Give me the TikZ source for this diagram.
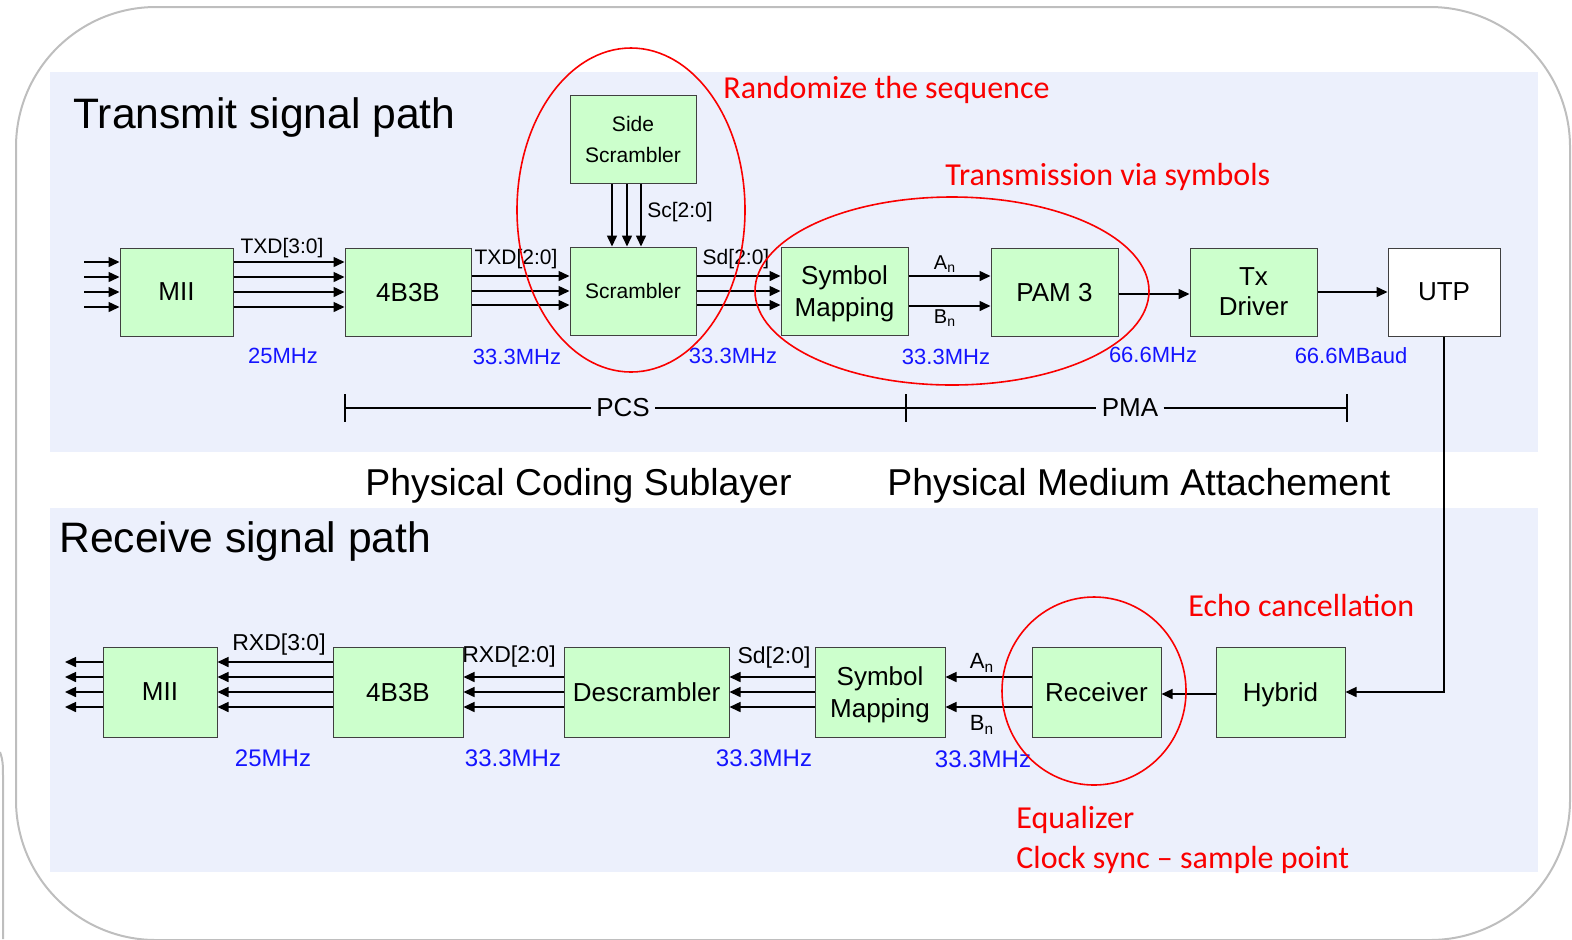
\documentclass[tikz,border=0pt]{standalone}
\usepackage{fontspec}
\setmainfont{Liberation Sans}
\newfontfamily\calibri{Carlito}
\usepackage{xcolor}
\usepackage{tikz}
\usetikzlibrary{positioning,calc,arrows.meta}

\definecolor{boxgreen}{RGB}{204,255,204}
\definecolor{bandbg}{RGB}{236,240,252}
\definecolor{freqblue}{RGB}{20,20,255}
\definecolor{notered}{RGB}{250,0,0}
\definecolor{framegray}{RGB}{190,190,190}

\begin{document}
\begin{tikzpicture}[
	x=0.5pt, y=-0.5pt,
	blk/.style={draw=black!75, line width=0.5pt, fill=boxgreen, align=center, inner sep=0pt, text depth=0pt, minimum height=44pt, font=\fontsize{13}{16}\selectfont},
	rxblk/.style={blk, minimum height=45pt},
	sig/.style={line width=0.75pt, -{Triangle[length=5.5pt,width=5pt]}},
	bus/.style={inner sep=0pt, font=\fontsize{10.5}{12}\selectfont},
	rxbus/.style={inner sep=0pt, font=\fontsize{11.5}{13}\selectfont},
	freq/.style={text=freqblue, inner sep=0pt, font=\fontsize{11}{13}\selectfont},
	rxfreq/.style={text=freqblue, inner sep=0pt, font=\fontsize{12}{14}\selectfont},
	title/.style={anchor=base west, inner sep=0pt, font=\fontsize{21.3}{25}\selectfont},
	layer/.style={anchor=base west, inner sep=0pt, font=\fontsize{18.7}{22}\selectfont},
	note/.style={text=notered, anchor=base west, inner sep=0pt, font=\calibri\fontsize{16}{19}\selectfont},
	hilite/.style={draw=notered, line width=0.8pt}
	]
	\useasboundingbox (0,0) rectangle (1572,939);
	
	%==================== background ====================
	\draw[framegray, line width=1pt, rounded corners=70pt] (16,7) rectangle (1570,940);
	\draw[framegray, line width=1pt] (0,752) to[out=-70,in=90] (3,775) -- (3,939);
	\fill[bandbg] (50,72) rectangle (1538,452);
	\fill[bandbg] (50,508) rectangle (1538,872);
	
	\node[title] (txtitle) at (73,128) {Transmit signal path};
	\node[title] (rxtitle) at (59,552) {Receive signal path};
	\node[layer] (pcsname) at (365,495) {Physical Coding Sublayer};
	\node[layer] (pmaname) at (887,495) {Physical Medium Attachement};
	
	%==================== transmit path ====================
	\node[blk, minimum width=56.5pt] (txmii) at (176.5,292) {MII};
	\node[blk, minimum width=63pt] (txenc) at (408,292) {4B3B};
	\node[blk, minimum width=63pt, font=\fontsize{10.5}{15.5}\selectfont] (scr) at (633,291) {Scrambler};
	\node[blk, minimum width=63pt, font=\fontsize{10.5}{15.5}\selectfont] (sidescr) at (633,139.5) {Side\\Scrambler};
	\node[blk, minimum width=63.5pt] (txsym) at (844.5,291) {Symbol\\Mapping};
	\node[blk, minimum width=63.5pt] (pam) at (1054.5,292) {PAM 3};
	\node[blk, minimum width=63.5pt, font=\fontsize{13}{15}\selectfont] (txdrv) at (1253.5,292) {Tx\\Driver};
	\node[blk, fill=white, minimum width=56pt] (utp) at (1444,292) {UTP};
	\coordinate (txin) at (84,292);
	
	\draw[sig] ($(txin)+(0,-30)$) -- ($(txmii.west)+(0,-30)$);
	\draw[sig] ($(txin)+(0,-15)$) -- ($(txmii.west)+(0,-15)$);
	\draw[sig] ($(txin)+(0,0)$) -- ($(txmii.west)+(0,0)$);
	\draw[sig] ($(txin)+(0,15)$) -- ($(txmii.west)+(0,15)$);
	
	\draw[sig] ($(txmii.east)+(0,-30)$) -- ($(txenc.west)+(0,-30)$);
	\draw[sig] ($(txmii.east)+(0,-15)$) -- ($(txenc.west)+(0,-15)$);
	\draw[sig] (txmii.east) -- (txenc.west);
	\draw[sig] ($(txmii.east)+(0,15)$) -- ($(txenc.west)+(0,15)$);
	
	\draw[sig] ($(txenc.east)+(0,-16)$) -- ($(scr.west)+(0,-15)$);
	\draw[sig] ($(txenc.east)+(0,-1)$) -- (scr.west);
	\draw[sig] ($(txenc.east)+(0,13)$) -- ($(scr.west)+(0,14)$);
	
	\draw[sig] ($(sidescr.south)+(-21,0)$) -- ($(scr.north)+(-21,0)$);
	\draw[sig] ($(sidescr.south)+(-6,0)$) -- ($(scr.north)+(-6,0)$);
	\draw[sig] ($(sidescr.south)+(8,0)$) -- ($(scr.north)+(8,0)$);
	
	\draw[sig] ($(scr.east)+(0,-15)$) -- ($(txsym.west)+(0,-15)$);
	\draw[sig] (scr.east) -- (txsym.west);
	\draw[sig] ($(scr.east)+(0,14)$) -- ($(txsym.west)+(0,14)$);
	
	\draw[sig] ($(txsym.east)+(0,-15)$) -- ($(pam.west)+(0,-16)$);
	\draw[sig] ($(txsym.east)+(0,15)$) -- ($(pam.west)+(0,14)$);
	\draw[sig] ($(pam.east)+(0,2)$) -- ($(txdrv.west)+(0,2)$);
	\draw[sig] (txdrv.east) -- (utp.west);
	
	\node[bus] (ltxd4) at (282,248) {TXD[3:0]};
	\node[bus] (ltxd3) at (516,259) {TXD[2:0]};
	\node[bus] (lsc) at (680,212) {Sc[2:0]};
	\node[bus] (lsd) at (736,259) {Sd[2:0]};
	\node[bus, font=\fontsize{10}{12}\selectfont] (lan) at (945,264) {A\textsubscript{n}};
	\node[bus, font=\fontsize{10}{12}\selectfont] (lbn) at (945,318) {B\textsubscript{n}};
	
	\node[freq] (ftx1) at (283,356) {25MHz};
	\node[freq] (ftx2) at (517,357) {33.3MHz};
	\node[freq] (ftx3) at (733,356) {33.3MHz};
	\node[freq] (ftx4) at (946,357) {33.3MHz};
	\node[freq] (ftx5) at (1153,355) {66.6MHz};
	\node[freq] (ftx6) at (1351,356) {66.6MBaud};
	
	%==================== PCS / PMA ====================
	\coordinate (pcsL) at (345,408);
	\coordinate (pcsM) at (906,408);
	\coordinate (pmaR) at (1347,408);
	\node[inner sep=2.5pt, font=\fontsize{13}{15}\selectfont] (pcs) at (623,408) {PCS};
	\node[inner sep=2.5pt, font=\fontsize{13}{15}\selectfont] (pma) at (1130,408) {PMA};
	\draw[line width=0.6pt] (pcsL) -- (pcs.west);
	\draw[line width=0.6pt] (pcs.east) -- (pcsM) -- (pma.west);
	\draw[line width=0.6pt] (pma.east) -- (pmaR);
	\draw[line width=0.6pt] ($(pcsL)+(0,-14)$) -- ($(pcsL)+(0,14)$);
	\draw[line width=0.6pt] ($(pcsM)+(0,-14)$) -- ($(pcsM)+(0,14)$);
	\draw[line width=0.6pt] ($(pmaR)+(0,-14)$) -- ($(pmaR)+(0,14)$);
	
	%==================== receive path ====================
	\node[rxblk, minimum width=57pt] (rxmii) at (160,692) {MII};
	\node[rxblk, minimum width=65pt] (rxenc) at (398,692) {4B3B};
	\node[rxblk, minimum width=82.5pt] (descr) at (646.5,692) {Descrambler};
	\node[rxblk, minimum width=65pt] (rxsym) at (880,692) {Symbol\\Mapping};
	\node[rxblk, minimum width=64.5pt] (rcv) at (1096.5,692) {Receiver};
	\node[rxblk, minimum width=64.5pt] (hyb) at (1280.5,692) {Hybrid};
	\coordinate (rxout) at (65,692);
	
	\draw[sig] (utp.south) |- (hyb.east);
	\draw[sig] ($(hyb.west)+(0,2)$) -- ($(rcv.east)+(0,2)$);
	\draw[sig] ($(rcv.west)+(0,-15)$) -- ($(rxsym.east)+(0,-15)$);
	\draw[sig] ($(rcv.west)+(0,15)$) -- ($(rxsym.east)+(0,15)$);
	
	\draw[sig] ($(rxsym.west)+(0,-15)$) -- ($(descr.east)+(0,-15)$);
	\draw[sig] (rxsym.west) -- (descr.east);
	\draw[sig] ($(rxsym.west)+(0,15)$) -- ($(descr.east)+(0,15)$);
	
	\draw[sig] ($(descr.west)+(0,-15)$) -- ($(rxenc.east)+(0,-15)$);
	\draw[sig] (descr.west) -- (rxenc.east);
	\draw[sig] ($(descr.west)+(0,15)$) -- ($(rxenc.east)+(0,15)$);
	
	\draw[sig] ($(rxenc.west)+(0,-30)$) -- ($(rxmii.east)+(0,-30)$);
	\draw[sig] ($(rxenc.west)+(0,-15)$) -- ($(rxmii.east)+(0,-15)$);
	\draw[sig] (rxenc.west) -- (rxmii.east);
	\draw[sig] ($(rxenc.west)+(0,15)$) -- ($(rxmii.east)+(0,15)$);
	
	\draw[sig] ($(rxmii.west)+(0,-30)$) -- ($(rxout)+(0,-30)$);
	\draw[sig] ($(rxmii.west)+(0,-15)$) -- ($(rxout)+(0,-15)$);
	\draw[sig] (rxmii.west) -- (rxout);
	\draw[sig] ($(rxmii.west)+(0,15)$) -- ($(rxout)+(0,15)$);
	
	\node[rxbus] (lrxd4) at (279,645) {RXD[3:0]};
	\node[rxbus] (lrxd3) at (509,657) {RXD[2:0]};
	\node[rxbus] (lsdrx) at (774,658) {Sd[2:0]};
	\node[rxbus, font=\fontsize{11}{13}\selectfont] (lanrx) at (982,663) {A\textsubscript{n}};
	\node[rxbus, font=\fontsize{11}{13}\selectfont] (lbnrx) at (982,725) {B\textsubscript{n}};
	
	\node[rxfreq] (frx1) at (273,758) {25MHz};
	\node[rxfreq] (frx2) at (513,758) {33.3MHz};
	\node[rxfreq] (frx3) at (764,758) {33.3MHz};
	\node[rxfreq] (frx4) at (983,759) {33.3MHz};
	
	%==================== notes ====================
	\draw[hilite] (631,210) ellipse [x radius=114, y radius=162];
	\draw[hilite] (952,291) ellipse [x radius=197, y radius=94];
	\draw[hilite] (1094,691) ellipse [x radius=92, y radius=94];
	
	\node[note] (nrand) at (723,98) {Randomize the sequence};
	\node[note] (nsym) at (945,185) {Transmission via symbols};
	\node[note] (necho) at (1188,616) {Echo cancellation};
	\node[note] (neq) at (1016,828) {Equalizer};
	\node[note] (nclk) at (1016,868) {Clock sync \textendash{} sample point};
	
\end{tikzpicture}
\end{document}
